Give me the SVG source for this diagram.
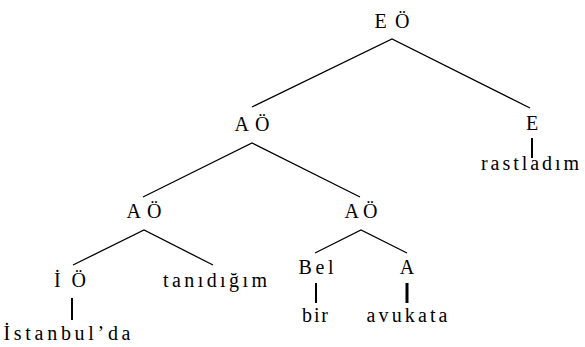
<svg xmlns="http://www.w3.org/2000/svg" width="585" height="347" viewBox="0 0 585 347">
<rect width="585" height="347" fill="#fff"/>
<g id="connectors" stroke="#000" fill="none">
<path stroke-width="1.3" d="M252 107 L392 39 L530 108"/>
<path stroke-width="1.3" d="M143 197 L252 143 L360 197"/>
<path stroke-width="1.3" d="M73 265 L144 230 L213 265"/>
<path stroke-width="1.3" d="M315 253 L361 230 L407 253"/>
<path stroke-width="2" d="M532 138 V158"/>
<path stroke-width="2" d="M72 298 V320"/>
<path stroke-width="2" d="M316 283 V303"/>
<path stroke-width="3" d="M407 283 V303"/>
</g>
<g id="EO"><text x="374.5" y="28" font-family="Liberation Serif" font-size="20" textLength="35" lengthAdjust="spacing">EÖ</text></g>
<g id="AO1"><text x="234.5" y="131" font-family="Liberation Serif" font-size="20" textLength="35" lengthAdjust="spacing">AÖ</text></g>
<g id="E"><text x="526" y="130" font-family="Liberation Serif" font-size="20">E</text></g>
<g id="rastladim"><text x="481" y="170" font-family="Liberation Serif" font-size="20" textLength="98" lengthAdjust="spacing">rastladım</text></g>
<g id="AO2"><text x="126.5" y="218" font-family="Liberation Serif" font-size="20" textLength="35" lengthAdjust="spacing">AÖ</text></g>
<g id="AO3"><text x="344.5" y="218" font-family="Liberation Serif" font-size="20" textLength="33" lengthAdjust="spacing">AÖ</text></g>
<g id="IO"><text x="54" y="287" font-family="Liberation Serif" font-size="20" textLength="32" lengthAdjust="spacing">İÖ</text></g>
<g id="tanidigim"><text x="163" y="287" font-family="Liberation Serif" font-size="20" textLength="104" lengthAdjust="spacing">tanıdığım</text></g>
<g id="istanbulda"><text x="3.5" y="340" font-family="Liberation Serif" font-size="20" textLength="127" lengthAdjust="spacing">İstanbul’da</text></g>
<g id="Bel"><text x="298.5" y="274" font-family="Liberation Serif" font-size="20" textLength="35" lengthAdjust="spacing">Bel</text></g>
<g id="A"><text x="399.8" y="274" font-family="Liberation Serif" font-size="20">A</text></g>
<g id="bir"><text x="302" y="322" font-family="Liberation Serif" font-size="20" textLength="26" lengthAdjust="spacing">bir</text></g>
<g id="avukata"><text x="366.5" y="322" font-family="Liberation Serif" font-size="20" textLength="81" lengthAdjust="spacing">avukata</text></g>
</svg>
